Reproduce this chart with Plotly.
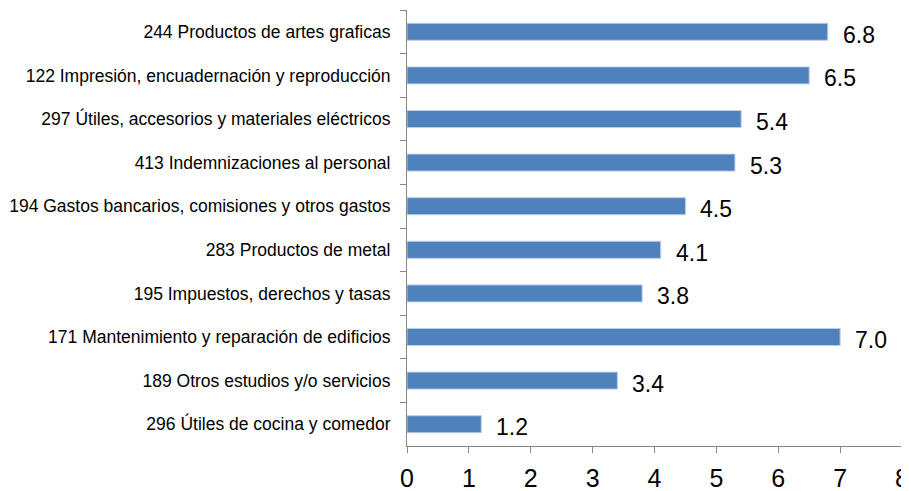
import plotly.graph_objects as go

categories = [
    "244 Productos de artes graficas",
    "122 Impresión, encuadernación y reproducción",
    "297 Útiles, accesorios y materiales eléctricos",
    "413 Indemnizaciones al personal",
    "194 Gastos bancarios, comisiones y otros gastos",
    "283 Productos de metal",
    "195 Impuestos, derechos y tasas",
    "171 Mantenimiento y reparación de edificios",
    "189 Otros estudios y/o servicios",
    "296 Útiles de cocina y comedor",
]
values = [6.8, 6.5, 5.4, 5.3, 4.5, 4.1, 3.8, 7.0, 3.4, 1.2]
x_ticks = [0, 1, 2, 3, 4, 5, 6, 7, 8]

FONT = "Liberation Sans Narrow, Arial Narrow, Liberation Sans, Arial, sans-serif"

fig = go.Figure()
fig.add_trace(go.Bar(
    y=categories, x=values, orientation="h",
    marker=dict(color="#4F81BD", line=dict(color="#B9CDE5", width=1)),
    hoverinfo="x+y",
))

for c, v in zip(categories, values):
    fig.add_annotation(
        x=v, y=c, text=f"{v:.1f}", showarrow=False,
        xanchor="left", yanchor="middle", xshift=13, yshift=-3,
        font=dict(family=FONT, size=23, color="#000000"),
    )

# the page body adds an 8px offset, margins compensate for it
fig.update_layout(
    width=909, height=491,
    margin=dict(l=399, r=15, t=2, b=53),
    paper_bgcolor="white", plot_bgcolor="white",
    showlegend=False,
    bargap=0.61,
    font=dict(family=FONT, color="#000000"),
    xaxis=dict(
        range=[0, 8], tickvals=x_ticks, ticktext=[str(t) for t in x_ticks],
        showgrid=False, zeroline=False, automargin=False,
        showline=True, linecolor="#868686", linewidth=1,
        ticks="outside", ticklen=6, tickcolor="#868686",
        ticklabelstandoff=4,
        tickfont=dict(family=FONT, size=25, color="#000000"),
    ),
    yaxis=dict(
        autorange="reversed", automargin=False,
        showgrid=False, zeroline=False,
        showline=True, linecolor="#868686", linewidth=1,
        ticks="outside", ticklen=6, tickcolor="#868686",
        tickson="boundaries",
        ticklabelstandoff=12,
        tickfont=dict(family=FONT, size=17.5, color="#000000"),
    ),
)

fig.write_html("out.html")
